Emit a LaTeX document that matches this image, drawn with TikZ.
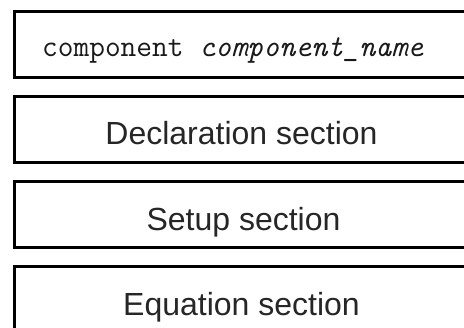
\documentclass[tikz,border=0pt]{standalone}
\usepackage{fontspec}
\setmainfont{Liberation Sans}
\begin{document}
\begin{tikzpicture}[x=1pt,y=-1pt,
  sect/.style={draw=black, line width=3pt, rectangle, minimum width=455pt, minimum height=66pt, inner sep=0pt, anchor=center},
  sanslbl/.style={anchor=base, inner sep=0pt, text=black!85, font=\fontsize{32}{36}\selectfont},
  monolbl/.style={anchor=base west, inner sep=0pt, text=black!90, font=\ttfamily\fontsize{30.5}{34}\selectfont}]
\useasboundingbox[fill=white] (0,0) rectangle (464,328);
\node[sect] (b1) at (241.5,45) {};
\node[sect] (b2) at (241.5,130) {};
\node[sect] (b3) at (241.5,215) {};
\node[sect] (b4) at (241.5,300) {};
\node[monolbl] (t1) at (42,57) {component \textit{component\_name}};
\node[sanslbl] (t2) at (241.5,145) {Declaration section};
\node[sanslbl] (t3) at (243.5,231) {Setup section};
\node[sanslbl] (t4) at (241.5,316) {Equation section};
\end{tikzpicture}
\end{document}
